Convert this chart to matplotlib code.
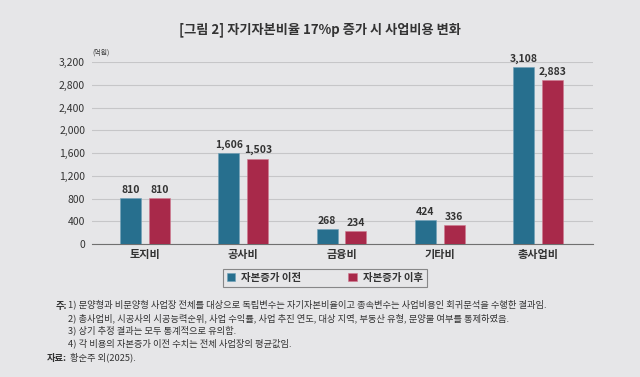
import matplotlib
matplotlib.use("Agg")
from matplotlib import pyplot as plt
import numpy as np

plt.rcParams['font.family'] = ['Noto Sans CJK KR', 'DejaVu Sans']

# data
categories = ["토지비", "공사비", "금융비", "기타비", "총사업비"]
before = [810, 1606, 268, 424, 3108]
after = [810, 1503, 234, 336, 2883]
series_names = ["자본증가 이전", "자본증가 이후"]
yticks = [0, 400, 800, 1200, 1600, 2000, 2400, 2800, 3200]

title = "[그림 2] 자기자본비율 17%p 증가 시 사업비용 변화"
notes = [
    "1) 분양형과 비분양형 사업장 전체를 대상으로 독립변수는 자기자본비율이고 종속변수는 사업비용인 회귀분석을 수행한 결과임.",
    "2) 총사업비, 시공사의 시공능력순위, 사업 수익률, 사업 추진 연도, 대상 지역, 부동산 유형, 분양불 여부를 통제하였음.",
    "3) 상기 추정 결과는 모두 통계적으로 유의함.",
    "4) 각 비용의 자본증가 이전 수치는 전체 사업장의 평균값임.",
]
source = "황순주 외(2025)."

bg = "#e6e6e8"
blue = "#276f8e"
red = "#a8294a"
txt = "#333333"

fig = plt.figure(figsize=(6.4, 3.77), dpi=100, facecolor=bg)
ax = fig.add_axes([92/640, 1-244/377, 501/640, 182/377], facecolor=bg)

x = np.arange(len(categories))
w = 0.214
off = 0.147
b1 = ax.bar(x - off, before, w, color=blue, edgecolor="#6fa0b8", linewidth=0.4, zorder=3)
b2 = ax.bar(x + off, after, w, color=red, edgecolor="#d07a90", linewidth=0.4, zorder=3)

for bars, vals in [(b1, before), (b2, after)]:
    for r, v in zip(bars, vals):
        ax.text(r.get_x() + r.get_width()/2, v + 55, f"{v:,}", ha="center", va="bottom",
                fontsize=7.5, fontweight="bold", color=txt)

ax.set_xlim(-0.54, 4.56)
ax.set_ylim(0, 3200)
ax.set_yticks(yticks)
ax.set_yticklabels([f"{t:,}" for t in yticks], fontsize=7.5, color=txt)
ax.set_xticks(x)
ax.set_xticklabels(categories, fontsize=8, fontweight="bold", color=txt)
ax.tick_params(length=0, pad=5)
ax.tick_params(axis="x", pad=3)
ax.grid(axis="y", color="#c6c6c8", linewidth=0.8, zorder=0)
for s in ["top", "right", "left"]:
    ax.spines[s].set_visible(False)
ax.spines["bottom"].set_color("#707070")
ax.spines["bottom"].set_linewidth(0.8)

ax.text(0, 1.03, "(억원)", transform=ax.transAxes, fontsize=5, color=txt, va="bottom")

fig.text(0.5, 1-30/377, title, ha="center", va="center", fontsize=9.5, fontweight="bold", color=txt)

leg = fig.legend([b1, b2], series_names, loc="center", bbox_to_anchor=(325/640, 1-278/377),
                 ncol=2, fontsize=7.5, frameon=True, fancybox=False, edgecolor="#707070",
                 facecolor=bg, handlelength=0.8, handleheight=0.8, columnspacing=4.5,
                 borderpad=0.4, handletextpad=0.6)
leg.get_frame().set_linewidth(0.8)
for t in leg.get_texts():
    t.set_fontweight("bold")
    t.set_color(txt)

# notes, placed by baseline
ys = [307, 321, 333, 346]
fig.text(67/640, 1-(ys[0]+1.5)/377, "주:", fontsize=6.7, fontweight="bold", color=txt, va="baseline", ha="right")
for n, yy in zip(notes, ys):
    fig.text(68/640, 1-yy/377, n, fontsize=6.7, color=txt, va="baseline")
fig.text(47/640, 1-361.5/377, "자료:", fontsize=6.7, fontweight="bold", color=txt, va="baseline")
fig.text(70/640, 1-360/377, source, fontsize=6.7, color=txt, va="baseline")

fig.savefig("out.png", dpi=100, facecolor=bg)
